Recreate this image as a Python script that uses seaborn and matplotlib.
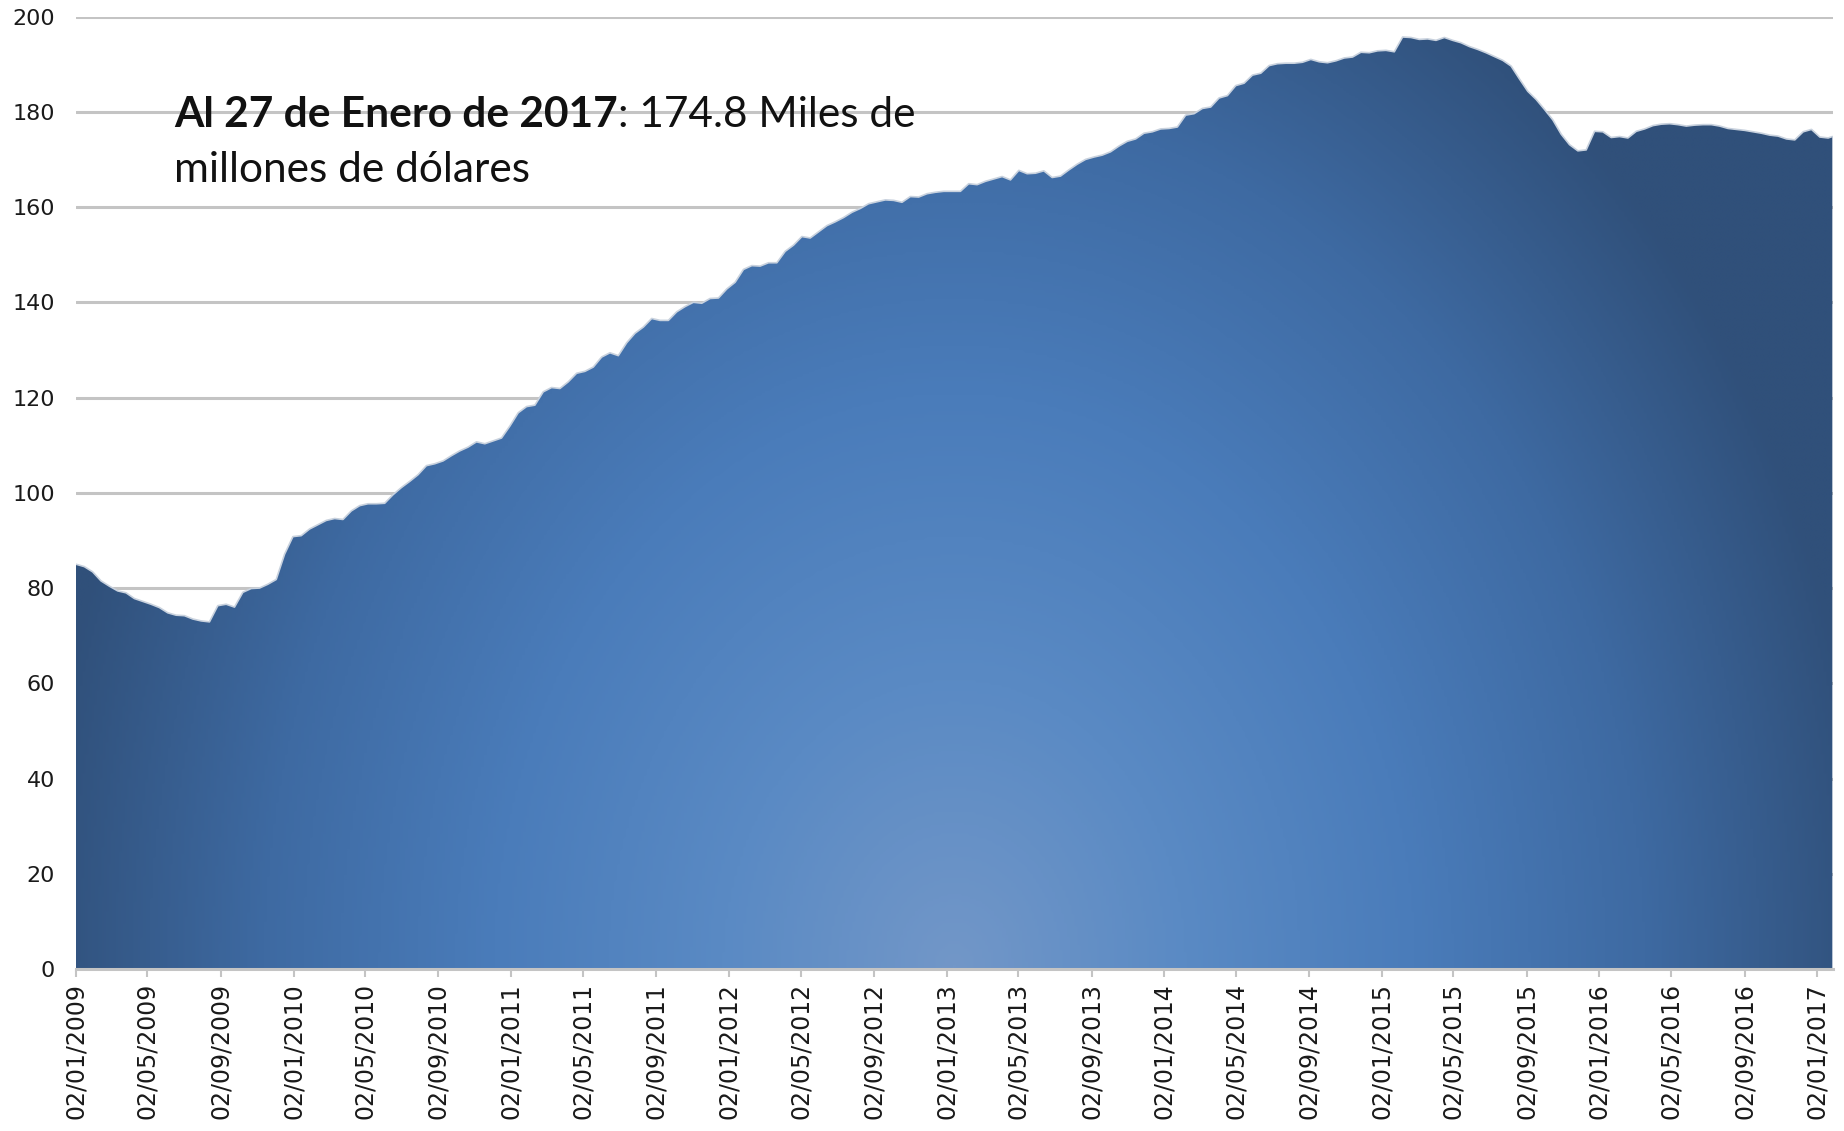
import numpy as np
import pandas as pd
import matplotlib
matplotlib.use("Agg")
import matplotlib.pyplot as plt
import matplotlib.dates as mdates
from matplotlib.colors import LinearSegmentedColormap
import seaborn as sns

# reservas internacionales, miles de millones de dolares (lectura quincenal del grafico)
reserves = [
    85.0, 84.5, 83.4, 81.5, 80.4, 79.4, 79.0, 77.8, 77.2, 76.6,
    75.9, 74.8, 74.3, 74.2, 73.5, 73.1, 72.9, 76.3, 76.6, 76.0,
    79.1, 79.9, 80.0, 80.8, 81.8, 87.1, 90.8, 91.0, 92.4, 93.3,
    94.2, 94.6, 94.4, 96.2, 97.3, 97.7, 97.7, 97.8, 99.6, 101.1,
    102.4, 103.8, 105.7, 106.1, 106.7, 107.8, 108.8, 109.6, 110.7, 110.3,
    110.9, 111.5, 114.0, 116.8, 118.1, 118.4, 121.2, 122.1, 121.9, 123.3,
    125.1, 125.5, 126.4, 128.5, 129.4, 128.8, 131.5, 133.5, 134.8, 136.6,
    136.2, 136.2, 138.0, 139.1, 140.0, 139.8, 140.8, 140.9, 142.8, 144.2,
    146.9, 147.7, 147.6, 148.3, 148.3, 150.7, 152.0, 153.8, 153.5, 154.8,
    156.1, 156.9, 157.8, 158.9, 159.7, 160.7, 161.1, 161.5, 161.4, 161.0,
    162.2, 162.1, 162.8, 163.1, 163.3, 163.3, 163.3, 164.9, 164.7, 165.4,
    165.9, 166.4, 165.7, 167.7, 167.0, 167.1, 167.6, 166.2, 166.5, 167.8,
    169.0, 170.0, 170.5, 170.9, 171.6, 172.8, 173.8, 174.3, 175.5, 175.8,
    176.4, 176.5, 176.8, 179.3, 179.6, 180.7, 181.0, 182.9, 183.4, 185.5,
    186.0, 187.7, 188.1, 189.7, 190.1, 190.2, 190.2, 190.4, 191.0, 190.5,
    190.3, 190.7, 191.3, 191.5, 192.5, 192.4, 192.8, 192.9, 192.6, 195.7,
    195.6, 195.2, 195.3, 195.0, 195.6, 195.0, 194.5, 193.7, 193.1, 192.4,
    191.6, 190.8, 189.6, 186.9, 184.3, 182.6, 180.5, 178.3, 175.3, 173.1,
    171.8, 172.0, 175.9, 175.8, 174.6, 174.8, 174.5, 175.9, 176.4, 177.1,
    177.4, 177.5, 177.3, 177.0, 177.2, 177.3, 177.3, 177.0, 176.5, 176.3,
    176.1, 175.8, 175.5, 175.1, 174.9, 174.3, 174.1, 175.8, 176.3, 174.7,
    174.5, 174.8,
]
dates = list(pd.date_range("2009-01-02", "2017-01-20", freq="14D")) + [pd.Timestamp("2017-01-27")]
tick_dates = pd.date_range("2009-01-01", "2017-01-01", freq="4MS") + pd.Timedelta(days=1)
y_ticks = [0, 20, 40, 60, 80, 100, 120, 140, 160, 180, 200]

df = pd.DataFrame({"fecha": dates, "reservas": reserves})

sns.set_theme(style="white")
plt.rcParams["font.family"] = ["DejaVu Sans"]

fig = plt.figure(figsize=(18.44, 11.31), dpi=100)
ax = fig.add_axes([0.0412, 0.1432, 0.9528, 0.8422])

# borde claro de la serie
sns.lineplot(data=df, x="fecha", y="reservas", ax=ax, color="#c9d2de", lw=1.2, zorder=3)

# area con degradado radial (claro abajo al centro, oscuro en las orillas)
poly = ax.fill_between(df["fecha"], 0, df["reservas"], facecolor="none", edgecolor="none")
gx, gy = np.meshgrid(np.linspace(0, 1, 600), np.linspace(0, 1, 400))
dist = np.sqrt(((gx - 0.5) / 0.5) ** 2 + (gy / 1.15) ** 2)
cmap = LinearSegmentedColormap.from_list(
    "radial",
    [(0.0, "#7297c8"), (0.25, "#5a8ac4"), (0.5, "#4a7cba"), (0.75, "#3e6aa2"), (1.0, "#30507a")],
)
im = ax.imshow(dist, cmap=cmap, vmin=0, vmax=1.05, origin="lower", extent=(0, 1, 0, 1),
               transform=ax.transAxes, aspect="auto", zorder=2, interpolation="bilinear")
im.set_clip_path(poly.get_paths()[0], ax.transData)

ax.set_xlim(pd.Timestamp("2009-01-02"), pd.Timestamp("2017-01-28"))
ax.set_ylim(0, 200)
ax.set_xlabel("")
ax.set_ylabel("")

ax.set_yticks(y_ticks)
ax.yaxis.grid(True, color="#c4c4c4", lw=2.2)
ax.set_axisbelow(True)
ax.set_xticks(tick_dates)
ax.xaxis.set_major_formatter(mdates.DateFormatter("%d/%m/%Y"))
ax.tick_params(axis="y", length=0, pad=15, labelsize=16, labelcolor="#1a1a1a")
ax.tick_params(axis="x", length=6, width=1.5, color="#c4c4c4", pad=4, labelsize=17,
               labelcolor="#1a1a1a", rotation=90, bottom=True)

for side in ["top", "right", "left"]:
    ax.spines[side].set_visible(False)
ax.spines["bottom"].set_color("#c4c4c4")
ax.spines["bottom"].set_linewidth(2.2)
ax.spines["bottom"].set_zorder(4)

# anotacion
t1 = fig.text(0.0944, 0.888, "Al 27 de Enero de 2017", fontsize=30.5, fontweight="bold",
              family=["Lato", "DejaVu Sans"], color="#111111")
fig.canvas.draw()
bb = t1.get_window_extent()
fig.text(bb.x1 / fig.bbox.width, 0.888, ": 174.8 Miles de", fontsize=30.5,
         family=["Lato", "DejaVu Sans"], color="#111111")
fig.text(0.0944, 0.839, "millones de dólares", fontsize=30.5,
         family=["Lato", "DejaVu Sans"], color="#111111")

fig.savefig("out.png", dpi=100)
